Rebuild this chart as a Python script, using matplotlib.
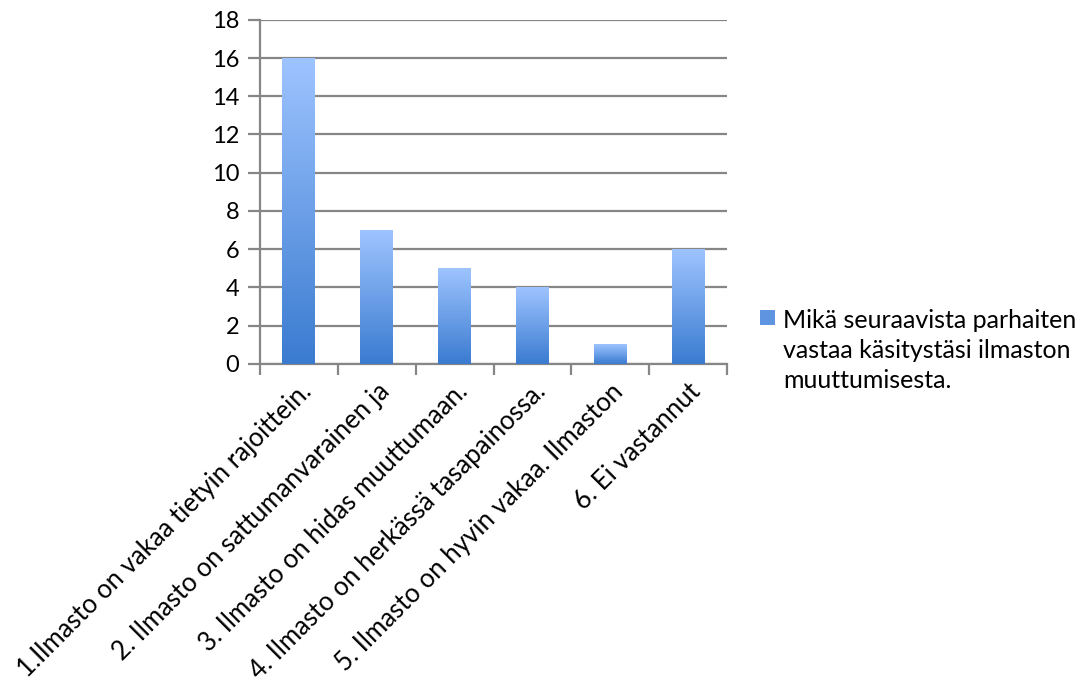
import matplotlib
matplotlib.use("Agg")
import matplotlib.pyplot as plt
import numpy as np
from matplotlib.colors import LinearSegmentedColormap
from matplotlib.patches import Rectangle

plt.rcParams["font.family"] = ["Lato", "DejaVu Sans"]

categories = [
    "1.Ilmasto on vakaa tietyin rajoittein.",
    "2. Ilmasto on sattumanvarainen ja",
    "3. Ilmasto on hidas muuttumaan.",
    "4. Ilmasto on herkässä tasapainossa.",
    "5. Ilmasto on hyvin vakaa. Ilmaston",
    "6. Ei vastannut",
]
counts = [16, 7, 5, 4, 1, 6]
series_name = "Mikä seuraavista parhaiten\nvastaa käsitystäsi ilmaston\nmuuttumisesta."
yticks = list(range(0, 19, 2))

GRID = "#868686"
bar_cmap = LinearSegmentedColormap.from_list("bar", ["#3a7bd0", "#9ec4ff"])

W, H = 1092, 685
fig = plt.figure(figsize=(W / 100, H / 100), dpi=100)
ax = fig.add_axes([0.238, 0.469, 0.428, 0.502])

x = np.arange(len(categories))
width = 0.42
gradient = np.linspace(0, 1, 256).reshape(-1, 1)
for xi, val in zip(x, counts):
    ax.imshow(gradient, cmap=bar_cmap, origin="lower", aspect="auto",
              extent=[xi - width / 2, xi + width / 2, 0, val], zorder=3)

ax.set_xlim(-0.5, len(categories) - 0.5)
ax.set_ylim(0, 18)
ax.set_yticks(yticks)
ax.yaxis.grid(True, color=GRID, linewidth=1.6, zorder=1)
ax.set_axisbelow(True)

for side in ["top", "right"]:
    ax.spines[side].set_visible(False)
for side in ["left", "bottom"]:
    ax.spines[side].set_color(GRID)
    ax.spines[side].set_linewidth(1.6)

ax.tick_params(axis="y", length=9, width=1.6, color=GRID, labelsize=17, pad=6)
ax.tick_params(axis="x", which="major", length=0, pad=11)
ax.set_xticks(x)
ax.set_xticklabels(categories, rotation=45, ha="right", va="top",
                   rotation_mode="anchor", fontsize=18.5)
ax.set_xticks(np.arange(-0.5, len(categories)), minor=True)
ax.tick_params(axis="x", which="minor", length=8, width=1.6, color=GRID)

# legend drawn by hand so the key sits beside the first line
fig.patches.append(Rectangle((760 / W, 1 - 325 / H), 15 / W, 15 / H,
                             transform=fig.transFigure, facecolor="#5f95e0",
                             edgecolor="none"))
for i, line in enumerate(series_name.split("\n")):
    fig.text(783 / W, 1 - (328 + 30 * i) / H, line, ha="left",
             va="baseline", fontsize=18)

fig.savefig("out.png", dpi=100)
